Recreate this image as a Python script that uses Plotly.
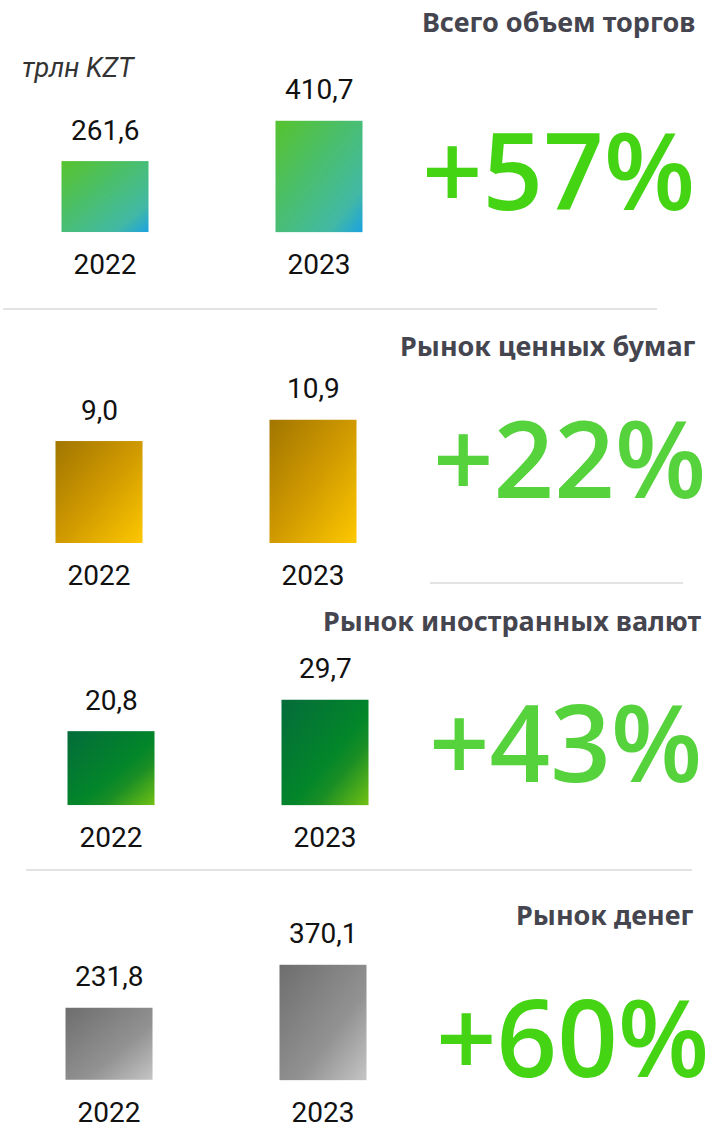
import numpy as np
import plotly.graph_objects as go

# data (трлн KZT)
YEARS = ["2022", "2023"]
TITLES = ["Всего объем торгов", "Рынок ценных бумаг", "Рынок иностранных валют", "Рынок денег"]
TOTAL = [261.6, 410.7]
SECURITIES = [9.0, 10.9]
FX = [20.8, 29.7]
MONEY = [231.8, 370.1]
GROWTH = ["+57%", "+22%", "+43%", "+60%"]
UNIT = "трлн KZT"

W, H = 717, 1129
NUM_FONT = "Roboto"
TITLE_FONT = "Noto Sans"
PCT_FONT = "Open Sans"

# per-panel layout (pixels): baseline, tallest bar height, first bar centre
PANELS = [
    dict(values=TOTAL, base=233, tall=112, c0=105,
         scale=[[0, "#56c32e"], [0.55, "#47bd80"], [0.8, "#42b8a6"], [1, "#1aa2e3"]],
         title_x=697, title_y=22, pct_x=558, pct_y=170, pct_color="#44d414"),
    dict(values=SECURITIES, base=545, tall=124, c0=99,
         scale=[[0, "#a27600"], [0.5, "#d09a00"], [1, "#ffc900"]],
         title_x=698, title_y=347, pct_x=569, pct_y=459, pct_color="#55d23c"),
    dict(values=FX, base=808, tall=106, c0=111,
         scale=[[0, "#046c3b"], [0.55, "#03862a"], [0.7, "#1b8f25"], [1, "#74c313"]],
         title_x=703, title_y=623, pct_x=565, pct_y=744, pct_color="#55d23c"),
    dict(values=MONEY, base=1084, tall=116, c0=109,
         scale=[[0, "#6e6e6e"], [0.6, "#929292"], [1, "#c6c6c6"]],
         title_x=695, title_y=918, pct_x=572, pct_y=1040, pct_color="#44d414"),
]
STEP = 214        # px between the two bars
BAR_W = 87        # px
X_DOMAIN_PX = 430
N = 24            # gradient resolution

fig = go.Figure()
layout = {}
annotations = []

for k, p in enumerate(PANELS, start=1):
    vals = p["values"]
    sfx = "" if k == 1 else str(k)
    xr = "x" + sfx
    yr = "y" + sfx
    r0 = -p["c0"] / STEP
    half = BAR_W / STEP / 2
    top_px = p["base"] - p["tall"]

    for i, v in enumerate(vals):
        xe = np.linspace(i - half, i + half, N + 1)
        ye = np.linspace(0, v, N + 1)
        u = (np.arange(N) + 0.5) / N
        z = [[(uu + (1 - (j + 0.5) / N)) / 2 for uu in u] for j in range(N)]
        fig.add_trace(go.Heatmap(
            x=xe, y=ye, z=z, zmin=0, zmax=1, zsmooth="best",
            colorscale=p["scale"], showscale=False, hoverinfo="skip",
            xaxis=xr, yaxis=yr,
        ))
        annotations.append(dict(
            x=i, y=v, xref=xr, yref=yr, text=f"{v:.1f}".replace(".", ","),
            showarrow=False, yanchor="middle", yshift=31,
            font=dict(family=NUM_FONT, size=28, color="#111111"),
        ))

    layout["xaxis" + sfx] = dict(
        domain=[0, X_DOMAIN_PX / W], range=[r0, r0 + X_DOMAIN_PX / STEP],
        anchor=yr, tickvals=[0, 1], ticktext=YEARS, ticks="",
        showgrid=False, zeroline=False, showline=False, fixedrange=True,
        tickfont=dict(family=NUM_FONT, size=28, color="#111111"),
        ticklabelstandoff=13,
    )
    layout["yaxis" + sfx] = dict(
        domain=[1 - p["base"] / H, 1 - top_px / H], range=[0, max(vals)],
        anchor=xr, visible=False, fixedrange=True,
    )

    annotations.append(dict(
        x=p["title_x"] / W, y=1 - p["title_y"] / H, xref="paper", yref="paper",
        text=TITLES[k - 1], showarrow=False, xanchor="right", yanchor="middle",
        font=dict(family=TITLE_FONT, size=27, color="#45454f", weight=700),
    ))
    annotations.append(dict(
        x=p["pct_x"] / W, y=1 - p["pct_y"] / H, xref="paper", yref="paper",
        text=GROWTH[k - 1], showarrow=False, xanchor="center", yanchor="middle",
        font=dict(family=PCT_FONT, size=106, color=p["pct_color"], weight=600),
    ))

annotations.append(dict(
    x=20 / W, y=1 - 68 / H, xref="paper", yref="paper", text=f"<i>{UNIT}</i>",
    showarrow=False, xanchor="left", yanchor="middle",
    font=dict(family=NUM_FONT, size=27, color="#333333"),
))

shapes = []
for x0, x1, y in [(3, 657, 310), (430, 683, 585), (26, 692, 873)]:
    shapes.append(dict(type="line", xref="paper", yref="paper",
                       x0=x0 / W, x1=x1 / W, y0=1 - y / H, y1=1 - y / H,
                       line=dict(color="#e3e3e3", width=2)))

fig.update_layout(
    width=W, height=H, margin=dict(l=0, r=0, t=0, b=0),
    paper_bgcolor="white", plot_bgcolor="white",
    showlegend=False, annotations=annotations, shapes=shapes,
    **layout,
)

fig.write_html("out.html", config={"displayModeBar": False},
               post_script="document.body.style.margin='0';")
